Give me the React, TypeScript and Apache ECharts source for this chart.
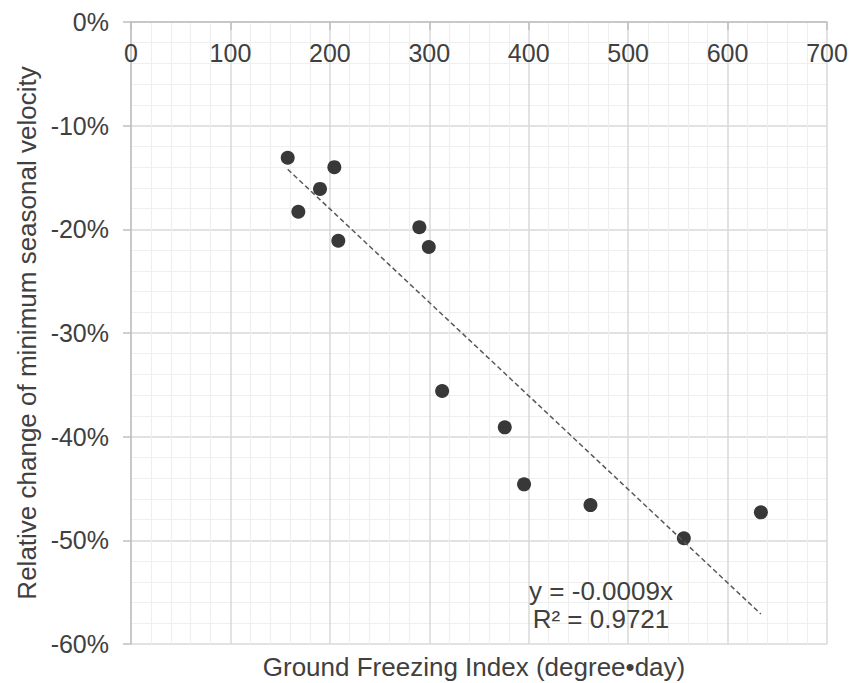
import React, { useEffect, useRef } from 'react';
import * as echarts from 'echarts';

// Ground Freezing Index (degree•day)
const freezingIndex = [157.6, 204.5, 190.1, 168.3, 208.5, 290.0, 299.5, 312.9, 375.9, 395.3, 462.1, 556.0, 633.5];
// Relative change of minimum seasonal velocity (%)
const relChange = [-13.1, -14.0, -16.1, -18.3, -21.1, -19.8, -21.7, -35.6, -39.1, -44.6, -46.6, -49.8, -47.3];

const equationText = 'y = -0.0009x';
const r2Text = 'R² = 0.9721';

const FONT = '"Liberation Sans", Arial, Helvetica, sans-serif';
const TEXT = '#404040';

export default function App() {
  const ref = useRef<HTMLDivElement>(null);

  useEffect(() => {
    document.body.style.margin = '0';
    if (!ref.current) return;
    const chart = echarts.init(ref.current, undefined, { renderer: 'svg' });

    // least-squares trendline through the origin, fitted to the data
    let sxy = 0;
    let sxx = 0;
    freezingIndex.forEach((x, i) => {
      sxy += x * relChange[i];
      sxx += x * x;
    });
    const slope = sxy / sxx;
    const xMin = Math.min(...freezingIndex);
    const xMax = Math.max(...freezingIndex);
    const trend = [
      [xMin, slope * xMin],
      [xMax, slope * xMax],
    ];

    chart.setOption({
      animation: false,
      textStyle: { fontFamily: FONT },
      grid: { left: 131, top: 22, right: 30, bottom: 39, containLabel: false, outerBoundsMode: 'none' },
      xAxis: {
        type: 'value',
        position: 'top',
        min: 0,
        max: 700,
        interval: 100,
        axisLine: { show: true, lineStyle: { color: '#bfbfbf', width: 1.5 } },
        axisTick: { show: true, inside: true, length: 8, lineStyle: { color: '#bfbfbf', width: 1.5 } },
        axisLabel: { inside: true, margin: 18, fontSize: 25, color: TEXT, fontFamily: FONT },
        splitLine: { show: true, lineStyle: { color: '#d9d9d9', width: 1.5 } },
        minorTick: { show: false, splitNumber: 5 },
        minorSplitLine: { show: true, lineStyle: { color: '#efefef', width: 1.2 } },
      },
      yAxis: {
        type: 'value',
        min: -60,
        max: 0,
        interval: 10,
        name: 'Relative change of minimum seasonal velocity',
        nameLocation: 'middle',
        nameGap: 90,
        nameTextStyle: { fontSize: 26, color: TEXT, fontFamily: FONT },
        axisLine: { show: true, lineStyle: { color: '#bfbfbf', width: 1.5 } },
        axisTick: { show: true, inside: false, length: 8, lineStyle: { color: '#bfbfbf', width: 1.5 } },
        axisLabel: { formatter: '{value}%', margin: 22, fontSize: 25, color: TEXT, fontFamily: FONT },
        splitLine: { show: true, lineStyle: { color: '#d9d9d9', width: 1.5 } },
        minorTick: { show: false, splitNumber: 5 },
        minorSplitLine: { show: true, lineStyle: { color: '#efefef', width: 1.2 } },
      },
      series: [
        {
          type: 'scatter',
          data: freezingIndex.map((x, i) => [x, relChange[i]]),
          symbol: 'circle',
          symbolSize: 14,
          itemStyle: { color: '#383838', opacity: 1 },
          z: 2,
        },
        {
          type: 'line',
          data: trend,
          showSymbol: false,
          symbol: 'none',
          lineStyle: { color: '#595959', width: 1.5, type: [5, 3] },
          z: 3,
          silent: true,
        },
      ],
      graphic: [
        {
          type: 'text',
          x: 601,
          y: 605,
          z: 100,
          style: {
            text: equationText + '\n' + r2Text,
            fontSize: 26,
            lineHeight: 28,
            fontFamily: FONT,
            fill: TEXT,
            align: 'center',
            verticalAlign: 'middle',
          },
        },
        {
          type: 'text',
          x: 474,
          y: 667,
          z: 100,
          style: {
            text: 'Ground Freezing Index (degree•day)',
            fontSize: 26,
            fontFamily: FONT,
            fill: TEXT,
            align: 'center',
            verticalAlign: 'middle',
          },
        },
      ],
    });

    return () => chart.dispose();
  }, []);

  return <div ref={ref} style={{ width: 857, height: 683 }} />;
}
